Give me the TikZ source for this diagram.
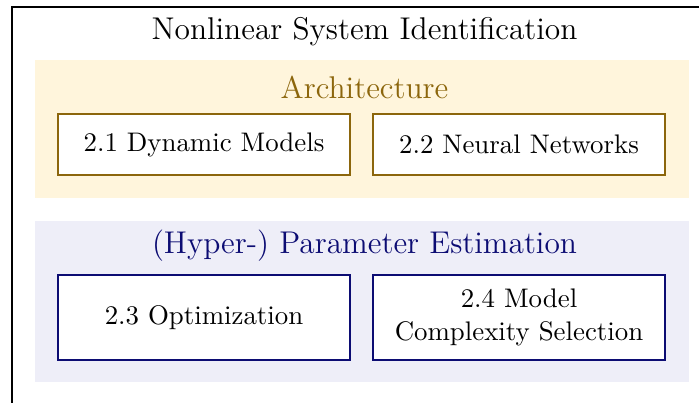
\documentclass[tikz,border=0pt]{standalone}
\usetikzlibrary{positioning}
\definecolor{archtext}{RGB}{140,102,12}
\definecolor{archfill}{RGB}{255,245,220}
\definecolor{esttext}{RGB}{12,12,115}
\definecolor{estfill}{RGB}{238,238,248}
\tikzset{
  sectionbox/.style={draw, line width=0.7pt, fill=white, inner sep=0pt, outer sep=0pt,
    minimum width={292*0.3723pt}, align=center, font=\normalsize},
  archbox/.style={sectionbox, draw=archtext, minimum height={61*0.3723pt}},
  estbox/.style={sectionbox, draw=esttext, minimum height={85*0.3723pt}},
  paneltitle/.style={font=\fontsize{11.7pt}{14pt}\selectfont, inner sep=0pt},
}
\begin{document}
\begin{tikzpicture}[x=0.3723pt, y=-0.3723pt]
  \useasboundingbox (0,0) rectangle (699,402);
  \clip (0,0) rectangle (699,402);
  % outer frame
  \draw[line width=0.75pt] (12,7) rectangle (760,460);
  \node[paneltitle] (title) at (364.5,32) {Nonlinear System Identification};
  % architecture panel
  \fill[archfill] (35,60) rectangle (689,198);
  \node[paneltitle, text=archtext] (archtitle) at (364.5,87) {Architecture};
  \node[archbox] (dyn) at (204,144.5) {2.1 Dynamic Models};
  \node[archbox] (nn) at (519,144.5) {2.2 Neural Networks};
  % estimation panel
  \fill[estfill] (35,221) rectangle (689,382);
  \node[paneltitle, text=esttext] (esttitle) at (364.5,246) {(Hyper-) Parameter Estimation};
  \node[estbox] (opt) at (204,317.5) {2.3 Optimization};
  \node[estbox] (cmplx) at (519,317.5) {2.4 Model\\Complexity Selection};
\end{tikzpicture}
\end{document}
